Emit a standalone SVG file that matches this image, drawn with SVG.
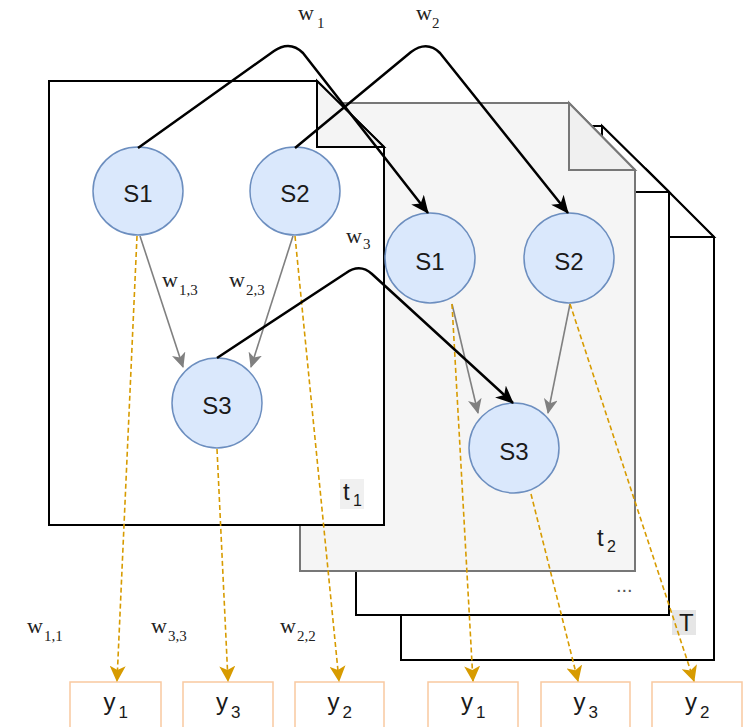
<svg xmlns="http://www.w3.org/2000/svg" width="756" height="727" viewBox="0 0 756 727">
<style>
.page{stroke-width:2;stroke-linejoin:miter}
.node{fill:#dae8fc;stroke:#6c8ebf;stroke-width:1.5}
.nl{font-family:"Liberation Sans",Arial,sans-serif;font-size:24px;fill:#1a1a1a;text-anchor:middle}
.w{font-family:"Liberation Serif","Times New Roman",serif;font-size:22px;fill:#222}
.ws{font-size:15px}
.tl{font-family:"Liberation Sans",Arial,sans-serif;font-size:24px;fill:#1a1a1a}
.ts{font-size:16px}
.yb{fill:#fff;stroke:#f9c9a0;stroke-width:1.5}
.yl{font-family:"Liberation Sans",Arial,sans-serif;font-size:24px;fill:#1a1a1a}
.ys{font-size:17px}
.blk{fill:none;stroke:#000;stroke-width:2.5;stroke-linejoin:round;marker-end:url(#ab)}
.gry{fill:none;stroke:#808080;stroke-width:1.6;marker-end:url(#ag)}
.dsh{fill:none;stroke:#d79b00;stroke-width:1.6;stroke-dasharray:5 3;marker-end:url(#ao)}
</style>
<defs>
<marker id="ab" markerUnits="userSpaceOnUse" markerWidth="18" markerHeight="16" refX="17" refY="8" orient="auto" viewBox="0 0 18 16"><path d="M0,0 L18,8 L0,16 L5,8 Z" fill="#000"/></marker>
<marker id="ag" markerUnits="userSpaceOnUse" markerWidth="15" markerHeight="14" refX="14" refY="7" orient="auto" viewBox="0 0 15 14"><path d="M0,0 L15,7 L0,14 L4,7 Z" fill="#808080"/></marker>
<marker id="ao" markerUnits="userSpaceOnUse" markerWidth="16" markerHeight="16" refX="15" refY="8" orient="auto" viewBox="0 0 16 16"><path d="M0,0 L16,8 L0,16 L4,8 Z" fill="#d79b00"/></marker>
</defs>

<g id="page-T">
<path class="page" d="M401,170 H647 L714,237 V660 H401 Z" fill="#fff" stroke="#000"/>
<path d="M647,170 V237 H714 Z" fill="#fff" stroke="#000" stroke-width="2"/>
<rect x="672" y="610" width="24" height="25" fill="#e6e6e6"/>
<text class="tl" x="679" y="631">T</text>
</g>
<g id="page-dots">
<path class="page" d="M356,126 H602 L669,192 V615 H356 Z" fill="#fff" stroke="#000"/>
<path d="M602,126 V192 H669 Z" fill="#fff" stroke="#000" stroke-width="2"/>
<text class="tl" x="616" y="592" style="font-size:20px;fill:#555">...</text>
</g>
<g id="page-t2">
<path class="page" d="M300,103 H569 L635,170 V571 H300 Z" fill="#f5f5f5" stroke="#777"/>
<path d="M569,103 V170 H635 Z" fill="#f0f0f0" stroke="#777" stroke-width="2"/>
<text class="tl" x="597" y="546">t<tspan class="ts" x="607" y="552">2</tspan></text>
</g>
<g id="page-t1">
<path class="page" d="M49,81 H317 L384,147 V525 H49 Z" fill="#fff" stroke="#000"/>
<path d="M317,81 V147 H384 Z" fill="#f4f4f4" stroke="#000" stroke-width="2"/>
<rect x="340" y="479" width="24" height="30" fill="#f0f0f0"/>
<text class="tl" x="343" y="500">t<tspan class="ts" x="353" y="506">1</tspan></text>
</g>

<g id="n1-s1"><ellipse class="node" cx="138" cy="191" rx="45" ry="44"/><text class="nl" x="138" y="202">S1</text></g>
<g id="n1-s2"><ellipse class="node" cx="295" cy="191" rx="45" ry="44"/><text class="nl" x="295" y="202">S2</text></g>
<g id="n1-s3"><ellipse class="node" cx="217" cy="403" rx="45" ry="45"/><text class="nl" x="217" y="414">S3</text></g>
<g id="n2-s1"><ellipse class="node" cx="430" cy="258" rx="45" ry="45"/><text class="nl" x="430" y="270">S1</text></g>
<g id="n2-s2"><ellipse class="node" cx="569" cy="258" rx="45" ry="45"/><text class="nl" x="569" y="270">S2</text></g>
<g id="n2-s3"><ellipse class="node" cx="514" cy="448" rx="45" ry="45"/><text class="nl" x="514" y="460">S3</text></g>

<g id="y1a"><rect class="yb" x="70" y="682" width="91" height="60"/><text class="yl" x="103.5" y="710">y<tspan class="ys" x="118.5" y="718">1</tspan></text></g>
<g id="y3a"><rect class="yb" x="183" y="682" width="90" height="60"/><text class="yl" x="216" y="710">y<tspan class="ys" x="231" y="718">3</tspan></text></g>
<g id="y2a"><rect class="yb" x="295" y="682" width="89" height="60"/><text class="yl" x="327.5" y="710">y<tspan class="ys" x="342.5" y="718">2</tspan></text></g>
<g id="y1b"><rect class="yb" x="428" y="682" width="90" height="60"/><text class="yl" x="461" y="710">y<tspan class="ys" x="476" y="718">1</tspan></text></g>
<g id="y3b"><rect class="yb" x="541" y="682" width="89" height="60"/><text class="yl" x="573.5" y="710">y<tspan class="ys" x="588.5" y="718">3</tspan></text></g>
<g id="y2b"><rect class="yb" x="652" y="682" width="90" height="60"/><text class="yl" x="685" y="710">y<tspan class="ys" x="700" y="718">2</tspan></text></g>

<g id="connectors">
<path class="gry" d="M140,236 L183,367"/>
<path class="gry" d="M293,236 L251,367"/>
<path class="gry" d="M452,304 L478,413"/>
<path class="gry" d="M570,304 L548,413"/>
<path class="dsh" d="M137,236 L117,681"/>
<path class="dsh" d="M217,449 L228,681"/>
<path class="dsh" d="M295,236 L339,681"/>
<path class="dsh" d="M452,304 L473,681"/>
<path class="dsh" d="M531,494 L578,681"/>
<path class="dsh" d="M570,304 L694,681"/>
<path class="blk" d="M138,148 L274,51 Q290,40 303,53 L428,213"/>
<path class="blk" d="M295,148 L411,52 Q427,40 440,53 L568,213"/>
<path class="blk" d="M217,358 L346,273 Q360,263 372,274 L513,403"/>
</g>

<g id="labels">
<text class="w" x="298" y="20">w<tspan class="ws" x="317" y="28">1</tspan></text>
<text class="w" x="416" y="20">w<tspan class="ws" x="432" y="28">2</tspan></text>
<text class="w" x="346" y="243">w<tspan class="ws" x="363" y="249">3</tspan></text>
<text class="w" x="162" y="287">w<tspan class="ws" x="179" y="295">1,3</tspan></text>
<text class="w" x="229" y="287">w<tspan class="ws" x="246" y="295">2,3</tspan></text>
<text class="w" x="27" y="633">w<tspan class="ws" x="44" y="641">1,1</tspan></text>
<text class="w" x="151" y="633">w<tspan class="ws" x="168" y="641">3,3</tspan></text>
<text class="w" x="280" y="633">w<tspan class="ws" x="297" y="641">2,2</tspan></text>
</g>
</svg>
